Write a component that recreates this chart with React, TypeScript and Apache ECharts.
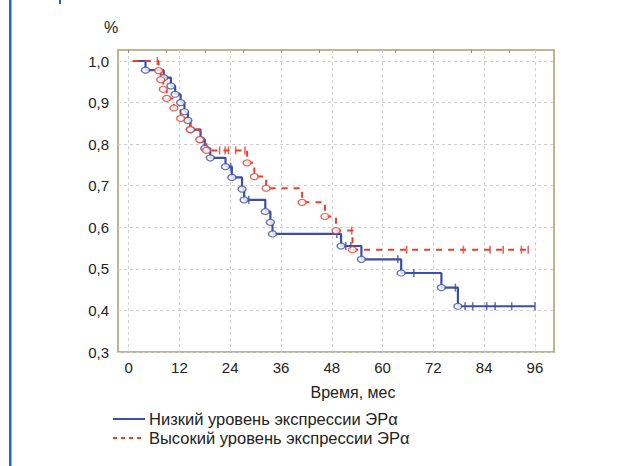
import React, { useEffect, useRef } from "react";
import * as echarts from "echarts";

// Tick labels
const xTicks = [0, 12, 24, 36, 48, 60, 72, 84, 96];
const yTicks = [0.3, 0.4, 0.5, 0.6, 0.7, 0.8, 0.9, 1.0];
const topTicks = [0, 9, 18, 27, 36, 45, 54, 63, 72, 81, 90];

// Low expression (blue): step points (time, survival)
const lowTimes = [1, 4, 8.3, 10, 11, 12.3, 13.2, 14, 14.6, 17, 18, 19.3, 22.9, 24.4, 26.8, 27.3, 32.3, 33.5, 34, 50.2, 55, 64.4, 73.9, 77.8, 96];
const lowSurv = [1.0, 0.978, 0.96, 0.94, 0.92, 0.9, 0.878, 0.857, 0.835, 0.811, 0.79, 0.767, 0.746, 0.72, 0.692, 0.666, 0.638, 0.612, 0.584, 0.555, 0.523, 0.49, 0.455, 0.41, 0.41];
// censored observations (blue)
const lowCensT = [24.1, 28.4, 49.2, 51.3, 52.5, 63.6, 67.4, 77.2, 79.5, 81.3, 84.6, 86.6, 90.5, 96];
const lowCensS = [0.746, 0.666, 0.584, 0.555, 0.555, 0.523, 0.49, 0.455, 0.41, 0.41, 0.41, 0.41, 0.41, 0.41];

// High expression (red)
const highTimes = [1, 7.1, 7.6, 8.2, 9, 10.7, 12.3, 14.6, 16.8, 18.4, 28, 29.7, 32.5, 41, 46.4, 49, 52.9, 95];
const highSurv = [1.0, 0.977, 0.955, 0.932, 0.91, 0.887, 0.862, 0.835, 0.811, 0.785, 0.755, 0.722, 0.694, 0.66, 0.626, 0.592, 0.546, 0.546];
const highCensT = [6.8, 21.5, 22.8, 23.6, 25.3, 27.5, 52.7, 65.7, 79.1, 85.4, 88.5, 92.8, 94.4];
const highCensS = [1.0, 0.785, 0.785, 0.785, 0.785, 0.785, 0.592, 0.546, 0.546, 0.546, 0.546, 0.546, 0.546];

const lowName = "Низкий уровень экспрессии ЭРα";
const highName = "Высокий уровень экспрессии ЭРα";
const xName = "Время, мес";

const BLUE = "#3d4fa5";
const RED = "#e8402e";
const FONT = "'Liberation Sans', Arial, Helvetica, sans-serif";

const zip = (a: number[], b: number[]) => a.map((v, i) => [v, b[i]]);

export default function App() {
  const ref = useRef<HTMLDivElement>(null);
  useEffect(() => {
    if (!ref.current) return;
    const chart = echarts.init(ref.current, undefined, { renderer: "svg" });
    const lowPts = zip(lowTimes, lowSurv);
    const highPts = zip(highTimes, highSurv);
    chart.setOption({
      animation: false,
      backgroundColor: "#ffffff",
      textStyle: { fontFamily: FONT },
      grid: {
        left: 118,
        top: 50,
        right: 76,
        bottom: 114,
        show: true,
        borderColor: "#a49f6c",
        borderWidth: 1.5,
        backgroundColor: "transparent",
      },
      xAxis: [
        {
          type: "value",
          min: -2.5,
          max: 100.5,
          axisLine: { show: false },
          axisTick: { show: false, customValues: xTicks },
          axisLabel: {
            customValues: xTicks,
            color: "#222",
            fontSize: 15,
            fontFamily: FONT,
            margin: 8,
          },
          splitLine: {
            show: true,
            lineStyle: { color: "#cfcfcf", type: [3, 3], width: 1 },
          },
        },
        {
          type: "value",
          position: "top",
          min: -2.5,
          max: 100.5,
          axisLine: { show: false },
          axisTick: {
            show: true,
            inside: true,
            length: 3,
            customValues: topTicks,
            lineStyle: { color: "#888" },
          },
          axisLabel: { show: false },
          splitLine: { show: false },
        },
      ],
      yAxis: {
        type: "value",
        min: 0.3,
        max: 1.0265,
        axisLine: { show: false },
        axisTick: { show: false, customValues: yTicks },
        axisLabel: {
          customValues: yTicks,
          color: "#222",
          fontSize: 15,
          fontFamily: FONT,
          margin: 9,
          formatter: (v: number) => v.toFixed(1).replace(".", ","),
        },
        splitLine: {
          show: true,
          lineStyle: { color: "#cfcfcf", type: [3, 3], width: 1 },
        },
      },
      graphic: [
        { type: "rect", shape: { x: 9, y: 0, width: 2.5, height: 466 }, style: { fill: "#1769c2" } },
        { type: "rect", shape: { x: 59, y: 0, width: 2, height: 4 }, style: { fill: "#1769c2" } },
        {
          type: "text",
          x: 111,
          y: 27,
          style: { text: "%", fontSize: 16, fontFamily: FONT, fill: "#222", align: "center", verticalAlign: "middle" },
        },
        {
          type: "text",
          x: 353,
          y: 392,
          style: { text: xName, fontSize: 16, fontFamily: FONT, fill: "#222", align: "center", verticalAlign: "middle" },
        },
        {
          type: "line",
          shape: { x1: 113, y1: 419, x2: 145, y2: 419 },
          style: { stroke: BLUE, lineWidth: 2 },
        },
        {
          type: "line",
          shape: { x1: 113, y1: 438, x2: 145, y2: 438 },
          style: { stroke: RED, lineWidth: 2, lineDash: [4, 4] },
        },
        {
          type: "text",
          x: 149,
          y: 419,
          style: { text: lowName, fontSize: 16.5, fontFamily: FONT, fill: "#222", align: "left", verticalAlign: "middle" },
        },
        {
          type: "text",
          x: 149,
          y: 438,
          style: { text: highName, fontSize: 16.5, fontFamily: FONT, fill: "#222", align: "left", verticalAlign: "middle" },
        },
      ],
      series: [
        {
          name: lowName,
          type: "line",
          step: "end",
          data: lowPts,
          symbol: "none",
          lineStyle: { color: BLUE, width: 2.2 },
          itemStyle: { color: BLUE },
          z: 3,
        },
        {
          name: highName,
          type: "line",
          step: "end",
          data: highPts,
          symbol: "none",
          lineStyle: { color: RED, width: 2, type: [6, 6] },
          itemStyle: { color: RED },
          z: 4,
        },
        {
          type: "scatter",
          data: lowPts.slice(1, -1),
          symbol: "circle",
          symbolSize: [8, 6],
          itemStyle: { color: "#ffffff", borderColor: BLUE, borderWidth: 1.3 },
          z: 5,
        },
        {
          type: "scatter",
          data: highPts.slice(1, -1),
          symbol: "circle",
          symbolSize: [8, 6],
          itemStyle: { color: "#ffffff", borderColor: RED, borderWidth: 1.3 },
          z: 6,
        },
        {
          type: "scatter",
          data: zip(lowCensT, lowCensS),
          symbol: "rect",
          symbolSize: [1.6, 8],
          itemStyle: { color: BLUE },
          z: 5,
        },
        {
          type: "scatter",
          data: zip(highCensT, highCensS),
          symbol: "rect",
          symbolSize: [1.6, 8],
          itemStyle: { color: RED },
          z: 6,
        },
      ],
    });
    return () => chart.dispose();
  }, []);
  return (
    <div
      ref={ref}
      style={{ position: "fixed", left: 0, top: 0, width: 630, height: 466, background: "#fff" }}
    />
  );
}
